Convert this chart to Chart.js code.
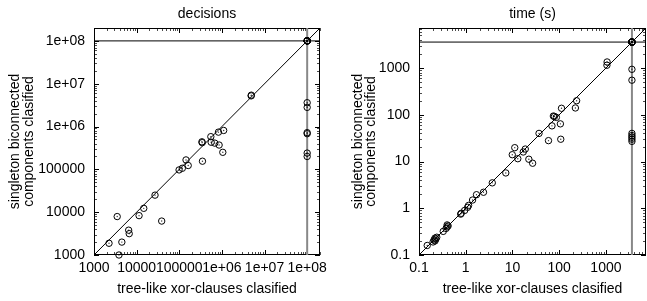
<!DOCTYPE html>
<html>
<head>
<meta charset="utf-8">
<script src="https://cdn.jsdelivr.net/npm/chart.js@4.4.1/dist/chart.umd.min.js"></script>
<style>
  html, body { margin: 0; padding: 0; background: #fff; }
  #wrap { position: relative; width: 647px; height: 301px; }
  canvas { position: absolute; left: 0; top: 0; }
</style>
</head>
<body>
<div id="wrap">
  <canvas id="decisions" width="647" height="301"></canvas>
  <canvas id="time" width="647" height="301"></canvas>
</div>
<script>
// shared texts
const xTitle = 'tree-like xor-clauses clasified';
const yTitle = ['singleton biconnected', 'components clasified'];

// decisions panel
const decTimeout = 1e8;
const decRange = [1000, 2e8];
const decTicks = [1e3, 1e4, 1e5, 1e6, 1e7, 1e8];
const decTickLabels = ['1000', '10000', '100000', '1e+06', '1e+07', '1e+08'];
const decTreeLike = [2250, 3500, 3850, 4500, 6500, 6700, 11400, 14700, 27000, 38700,
  99000, 118000, 144000, 162000, 350000, 340000, 345000, 550000, 560000, 680000,
  830000, 860000, 1100000, 1050000, 4850000, 4900000,
  1e8, 1e8, 1e8, 1e8, 1e8, 1e8, 1e8, 1e8,
  1e8, 1e8, 1e8, 1e8, 1e8, 1e8];
const decSingleton = [1880, 7900, 1000, 2000, 3800, 3150, 8300, 12300, 25000, 6200,
  97000, 106000, 166000, 123000, 155000, 440000, 420000, 580000, 430000, 410000,
  740000, 370000, 810000, 250000, 5200000, 5400000,
  1e8, 1e8, 1e8, 1e8, 1e8, 1e8, 1e8, 1e8,
  3600000, 2800000, 720000, 680000, 240000, 200000];

// time panel
const timeTimeout = 3600;
const timeRange = [0.1, 7200];
const timeTicks = [0.1, 1, 10, 100, 1000];
const timeTickLabels = ['0.1', '1', '10', '100', '1000'];
const timeTreeLike = [0.15, 0.2, 0.21, 0.22, 0.22, 0.23, 0.24, 0.33, 0.38, 0.4,
  0.42, 0.4, 0.78, 0.8, 0.95, 1.1, 1.15, 1.4, 1.7, 2.4,
  3.7, 7.2, 9.9, 11.2, 13, 17, 18.8, 22.4, 27, 37,
  59, 108, 70, 75, 79, 87, 106, 112, 222, 236,
  1060, 1050,
  3600, 3600, 3600, 3600, 3600, 3600, 3600, 3600, 3600, 3600,
  3600, 3600, 3600, 3600, 3600, 3600, 3600];
const timeSingleton = [0.16, 0.19, 0.21, 0.2, 0.23, 0.22, 0.24, 0.32, 0.37, 0.4,
  0.42, 0.44, 0.75, 0.78, 0.9, 1.05, 1.15, 1.5, 1.95, 2.2,
  3.5, 5.7, 14, 19.8, 11.5, 16, 18.5, 11.2, 9.2, 40,
  28, 30, 58, 94, 92, 88, 64, 138, 140, 200,
  1350, 1150,
  3600, 3600, 3600, 3600, 3600, 3600, 3600, 3600, 3600, 3600,
  940, 550, 40, 36, 33, 30, 27];

Chart.defaults.font.family = '"Liberation Sans", Arial, sans-serif';
Chart.defaults.font.size = 14;
Chart.defaults.color = '#000';

// gnuplot style border with inward ticks on all four sides
const framePlugin = {
  id: 'frame',
  beforeDatasetsDraw(chart, args, opts) {
    const { ctx, chartArea: a, scales } = chart;
    const minors = [];
    opts.ticks.forEach(t => {
      for (let k = 2; k <= 9; k++) {
        const v = t * k;
        if (v < opts.range[1] * 1.0001) minors.push(v);
      }
    });
    ctx.save();
    ctx.strokeStyle = '#000';
    ctx.lineWidth = 1;
    ctx.strokeRect(a.left + 0.5, a.top + 0.5, a.right - a.left - 1, a.bottom - a.top - 1);
    const mark = (v, len) => {
      const px = Math.round(scales.x.getPixelForValue(v)) + 0.5;
      const py = Math.round(scales.y.getPixelForValue(v)) + 0.5;
      ctx.beginPath();
      ctx.moveTo(px, a.bottom); ctx.lineTo(px, a.bottom - len);
      ctx.moveTo(px, a.top); ctx.lineTo(px, a.top + len);
      ctx.moveTo(a.left, py); ctx.lineTo(a.left + len, py);
      ctx.moveTo(a.right, py); ctx.lineTo(a.right - len, py);
      ctx.stroke();
    };
    opts.ticks.forEach(v => mark(v, 5));
    ctx.strokeStyle = 'rgba(0,0,0,0.7)';
    minors.forEach(v => mark(v, 3));
    ctx.restore();
  }
};

function labelFor(ticks, labels) {
  return v => {
    const i = ticks.findIndex(t => Math.abs(Math.log10(t) - Math.log10(v)) < 1e-6);
    return i >= 0 ? labels[i] : '';
  };
}

function axis(range, ticks, labels, extra) {
  return Object.assign({
    type: 'logarithmic',
    min: range[0],
    max: range[1],
    afterBuildTicks: s => { s.ticks = ticks.map(v => ({ value: v })); },
    grid: { display: false, drawTicks: false },
    border: { display: false },
  }, extra);
}

function makeChart(id, title, xs, ys, timeout, range, ticks, labels, box) {
  const pts = xs.map((x, i) => ({ x, y: ys[i] }));
  const fmt = labelFor(ticks, labels);
  new Chart(document.getElementById(id), {
    type: 'scatter',
    plugins: [framePlugin],
    data: {
      datasets: [
        {
          // open circles
          data: pts,
          pointStyle: 'circle',
          pointRadius: 3.2,
          pointBorderWidth: 1,
          pointBorderColor: '#000',
          pointBackgroundColor: 'rgba(0,0,0,0)',
          clip: false,
          order: 0,
        },
        {
          // centre dots
          data: pts,
          pointRadius: 0.7,
          pointBorderWidth: 0,
          pointBackgroundColor: 'rgba(0,0,0,0.8)',
          clip: false,
          order: 0,
        },
        {
          // y = x
          data: [{ x: range[0], y: range[0] }, { x: range[1], y: range[1] }],
          showLine: true, pointRadius: 0, borderColor: '#000', borderWidth: 1, order: 2,
        },
        {
          // timeout on y
          data: [{ x: range[0], y: timeout }, { x: range[1], y: timeout }],
          showLine: true, pointRadius: 0, borderColor: '#000', borderWidth: 1, order: 2,
        },
        {
          // timeout on x
          data: [{ x: timeout, y: range[0] }, { x: timeout, y: range[1] }],
          showLine: true, pointRadius: 0, borderColor: '#888', borderWidth: 2, order: 3,
        },
      ],
    },
    options: {
      responsive: false,
      animation: false,
      devicePixelRatio: 1,
      events: [],
      layout: { autoPadding: false, padding: { left: box.left, right: box.right, top: 0, bottom: 0 } },
      plugins: {
        legend: { display: false },
        tooltip: { enabled: false },
        title: {
          display: true, text: title, fullSize: false,
          font: { size: 14, weight: 'normal' },
          padding: { top: 5.6, bottom: 5.6 },
        },
        frame: { ticks, range },
      },
      scales: {
        x: axis(range, ticks, labels, {
          afterFit: s => { s.height = 46; },
          ticks: { autoSkip: false, maxRotation: 0, minRotation: 0, padding: 5, callback: fmt },
          title: { display: true, text: xTitle, font: { size: 14 }, padding: { top: 0, bottom: 3.6 } },
        }),
        y: axis(range, ticks, labels, {
          afterFit: s => { s.width = box.yWidth; },
          ticks: { autoSkip: false, padding: 9, callback: fmt },
          title: {
            display: true, text: yTitle,
            font: { size: 14, lineHeight: 0.96 },
            padding: { top: box.yTitle, bottom: 0 },
          },
        }),
      },
    },
  });
}

makeChart('decisions', 'decisions', decTreeLike, decSingleton, decTimeout,
  decRange, decTicks, decTickLabels, { left: 0, right: 327, yWidth: 94, yTitle: 8.6 });
makeChart('time', 'time (s)', timeTreeLike, timeSingleton, timeTimeout,
  timeRange, timeTicks, timeTickLabels, { left: 323, right: 1, yWidth: 96, yTitle: 28.3 });
</script>
</body>
</html>
